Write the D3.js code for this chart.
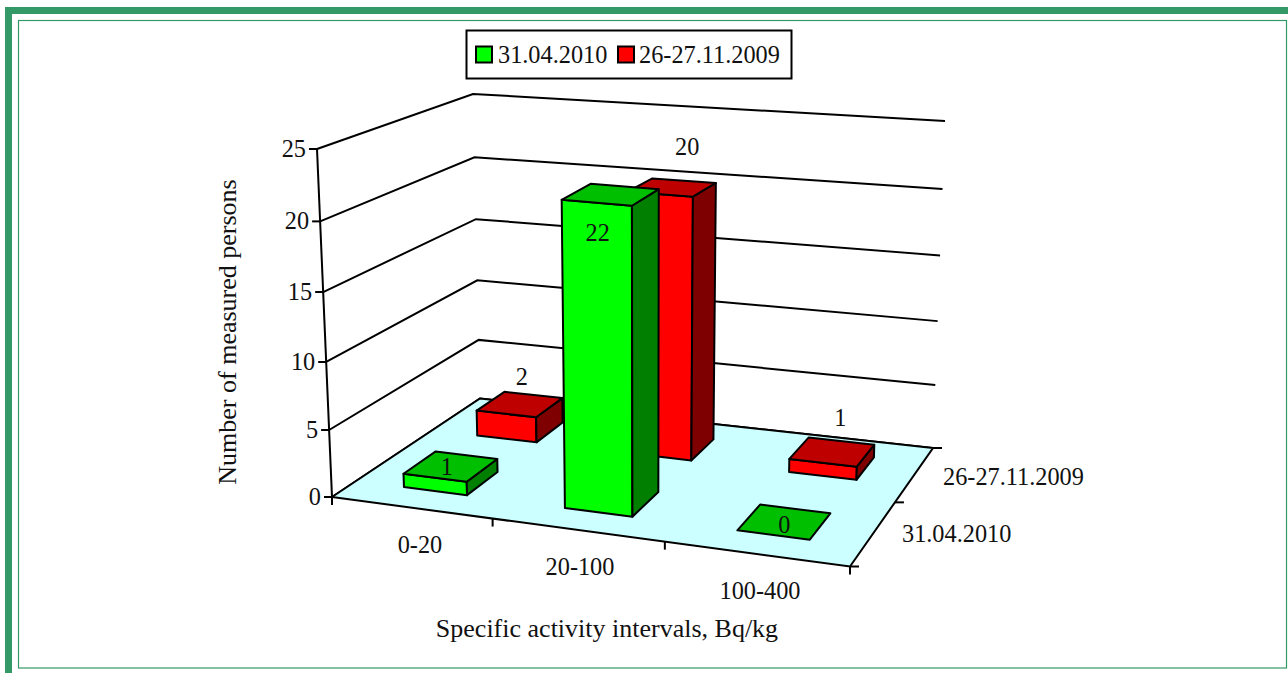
<!DOCTYPE html>
<html><head><meta charset="utf-8"><script src="https://cdn.jsdelivr.net/npm/d3@7"></script>
<style>html,body{margin:0;padding:0;background:#fff}svg{display:block}text{font-family:"Liberation Serif",serif;fill:#111}</style>
</head><body><svg id="c" width="1288" height="673"></svg>
<script>
const categories = ["0-20","20-100","100-400"];
const seriesNames = ["31.04.2010","26-27.11.2009"];
const valuesApr2010 = [1,22,0];
const valuesNov2009 = [2,20,1];
const yTicks = [0,5,10,15,20,25];
const legendNames = ["31.04.2010","26-27.11.2009"];

const layout = {
  floor:{fl:[332,497],fr:[850,566.5],br:[933,448],bl:[480,398.5]},
  lift:{fl:[-15,-348],fr:[9,-372],br:[12,-327],bl:[-7,-304.5]},
  yFrac:[0,.1925,.388,.589,.792,1],
  barU:.4, barV:.42, uShift:.003, font:24.3, titleFont:26
};
const palette = [
  {front:"#00FF00",top:"#00BF00",side:"#007F00"},
  {front:"#FF0000",top:"#BF0000",side:"#7F0000"}
];
const labelShift = [[[-4,1],[-13,39],[0,3]],[[2,-27],[15,-40],[8,-34]]];

function homography(q){
  const [x0,y0]=q.fl,[x1,y1]=q.fr,[x2,y2]=q.br,[x3,y3]=q.bl;
  const dx1=x1-x2,dx2=x3-x2,sx=x0-x1+x2-x3,dy1=y1-y2,dy2=y3-y2,sy=y0-y1+y2-y3;
  const den=dx1*dy2-dx2*dy1;
  const g=(sx*dy2-dx2*sy)/den,h=(dx1*sy-sx*dy1)/den;
  const a=x1-x0+g*x1,b=x3-x0+h*x3,d=y1-y0+g*y1,e=y3-y0+h*y3;
  return (u,v)=>{const w=g*u+h*v+1;return [(a*u+b*v+x0)/w,(d*u+e*v+y0)/w];};
}
const floorH=homography(layout.floor);
const uScale=d3.scaleBand().domain(categories).range([0,1]);
const vScale=d3.scaleBand().domain(seriesNames).range([0,1]);
const wScale=d3.scaleLinear().domain(yTicks).range(layout.yFrac);
function P(u,v,val){
  const a=floorH(u,v),t=wScale(val),L=layout.lift;
  const lift=k=>(L.fl[k]*(1-u)+L.fr[k]*u)*(1-v)+(L.bl[k]*(1-u)+L.br[k]*u)*v;
  return [a[0]+lift(0)*t,a[1]+lift(1)*t];
}
const svg=d3.select("#c");
const line=d3.line().curve(d3.curveLinearClosed);
const open=d3.line();
const SW=2;
// frame
svg.append("rect").attr("x",5).attr("y",7).attr("width",7).attr("height",666).attr("fill","#339966");
svg.append("rect").attr("x",5).attr("y",7).attr("width",1283).attr("height",7).attr("fill","#339966");
svg.append("rect").attr("x",18.5).attr("y",20.5).attr("width",1268).attr("height",647.5).attr("fill","none").attr("stroke","#339966").attr("stroke-width",1.2);

// walls
yTicks.forEach(t=>{
  svg.append("path").attr("d",open([P(0,0,t),P(0,1,t),P(1,1,t)])).attr("fill","none").attr("stroke","#000").attr("stroke-width",SW);
});
// floor
svg.append("path").attr("d",line([P(0,0,0),P(1,0,0),P(1,1,0),P(0,1,0)])).attr("fill","#CCFFFF").attr("stroke","#000").attr("stroke-width",SW);
// y axis
svg.append("path").attr("d",open([P(0,0,0),P(0,0,25)])).attr("stroke","#000").attr("fill","none").attr("stroke-width",SW);
yTicks.forEach(t=>{
  const p=P(0,0,t);
  svg.append("path").attr("d",open([[p[0]-8,p[1]],p])).attr("stroke","#000").attr("stroke-width",SW);
  svg.append("text").attr("x",p[0]-11).attr("y",p[1]+8).attr("text-anchor","end").attr("font-size",layout.font).text(t);
});
// x ticks
[0,1/3,2/3,1].forEach(u=>{
  const p=P(u,0,0);
  svg.append("path").attr("d",open([p,[p[0],p[1]+8]])).attr("stroke","#000").attr("stroke-width",SW);
});
[0,.5,1].forEach(v=>{
  const p=P(1,v,0);
  svg.append("path").attr("d",open([p,[p[0]+9,p[1]]])).attr("stroke","#000").attr("stroke-width",SW);
});
// bars
function barCentre(s,c){
  return [uScale(c)+uScale.bandwidth()/2+layout.uShift, vScale(s)+vScale.bandwidth()/2];
}
function bar(sIdx,cIdx,val){
  const [cu,cv]=barCentre(seriesNames[sIdx],categories[cIdx]);
  const hu=uScale.bandwidth()*layout.barU/2, hv=vScale.bandwidth()*layout.barV/2;
  const u0=cu-hu,u1=cu+hu,v0=cv-hv,v1=cv+hv,c=palette[sIdx];
  const g=svg.append("g").attr("stroke","#000").attr("stroke-width",SW).attr("stroke-linejoin","round");
  if(val>0){
    g.append("path").attr("d",line([P(u0,v0,0),P(u1,v0,0),P(u1,v0,val),P(u0,v0,val)])).attr("fill",c.front);
    g.append("path").attr("d",line([P(u1,v0,0),P(u1,v1,0),P(u1,v1,val),P(u1,v0,val)])).attr("fill",c.side);
  }
  g.append("path").attr("d",line([P(u0,v0,val),P(u1,v0,val),P(u1,v1,val),P(u0,v1,val)])).attr("fill",c.top);
}
const seriesValues=[valuesApr2010,valuesNov2009];
[1,0].forEach(s=>categories.forEach((c,i)=>bar(s,i,seriesValues[s][i])));
// data labels
[1,0].forEach(s=>categories.forEach((c,i)=>{
  const [cu,cv]=barCentre(seriesNames[s],c);
  const p=P(cu,cv,seriesValues[s][i]);
  const sh=labelShift[s][i];
  svg.append("text").attr("x",p[0]+sh[0]).attr("y",p[1]+sh[1]+8).attr("text-anchor","middle").attr("font-size",layout.font).text(seriesValues[s][i]);
}));
// category labels
const catPos=[[420,553],[580,575],[760,599]];
categories.forEach((c,i)=>svg.append("text").attr("x",catPos[i][0]).attr("y",catPos[i][1]).attr("text-anchor","middle").attr("font-size",layout.font).text(c));
const serPos=[[902,542],[943,485]];
seriesNames.forEach((c,i)=>svg.append("text").attr("x",serPos[i][0]).attr("y",serPos[i][1]).attr("font-size",layout.font).text(c));
// titles
svg.append("text").attr("x",607).attr("y",637).attr("text-anchor","middle").attr("font-size",layout.titleFont).text("Specific activity intervals, Bq/kg");
svg.append("text").attr("transform","translate(236,332) rotate(-90)").attr("text-anchor","middle").attr("font-size",layout.titleFont).text("Number of measured persons");
// legend
svg.append("rect").attr("x",466.5).attr("y",30.5).attr("width",325).attr("height",48).attr("fill","#fff").attr("stroke","#000").attr("stroke-width",2);
const legX=[[476,498],[618,639]];
legendNames.forEach((n,i)=>{
  svg.append("rect").attr("x",legX[i][0]).attr("y",46.5).attr("width",16).attr("height",16).attr("fill",palette[i].front).attr("stroke","#000").attr("stroke-width",2);
  svg.append("text").attr("x",legX[i][1]).attr("y",63).attr("font-size",layout.font).text(n);
});
</script></body></html>
